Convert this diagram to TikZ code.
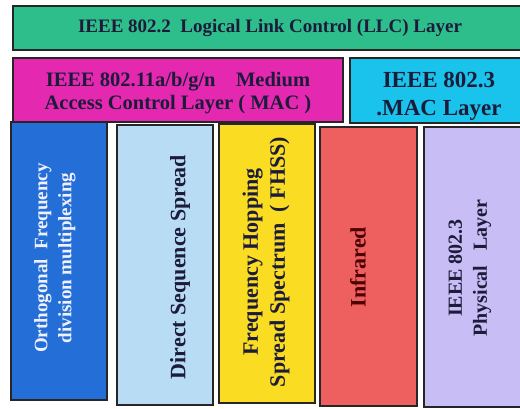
\documentclass[tikz,border=0pt]{standalone}
\usepackage{fontspec}
\setmainfont{Liberation Serif}
\definecolor{llcgreen}{RGB}{46,190,140}
\definecolor{macpink}{RGB}{228,40,175}
\definecolor{ethcyan}{RGB}{25,195,235}
\definecolor{ofdmblue}{RGB}{35,110,215}
\definecolor{dsssblue}{RGB}{185,220,245}
\definecolor{fhssyellow}{RGB}{250,220,35}
\definecolor{irred}{RGB}{238,95,95}
\definecolor{phylilac}{RGB}{200,190,245}
\definecolor{inkblue}{RGB}{28,28,58}
\tikzset{
  layerbox/.style={draw=black!85,line width=1.1pt},
  layertext/.style={text=inkblue,font=\bfseries,align=center,inner sep=0pt},
  sidetext/.style={layertext,rotate=90}
}
\begin{document}
\begin{tikzpicture}[x=1pt,y=-1pt]
\useasboundingbox (0,0) rectangle (520,408);
\clip (0,0) rectangle (520,408);

\filldraw[layerbox,fill=llcgreen]   (13,6)   rectangle (526,50);
\filldraw[layerbox,fill=macpink]    (13,58)  rectangle (343,122);
\filldraw[layerbox,fill=ethcyan]    (350,58) rectangle (526,123);

\filldraw[layerbox,fill=ofdmblue]   (11,122) rectangle (107,400);
\filldraw[layerbox,fill=dsssblue]   (117,125) rectangle (213,405);
\filldraw[layerbox,fill=fhssyellow] (219,124) rectangle (315,403);
\filldraw[layerbox,fill=irred]      (320,127) rectangle (417,406);
\filldraw[layerbox,fill=phylilac]   (424,127) rectangle (526,407);

\node[layertext,font=\bfseries\fontsize{19}{22}\selectfont] (llc) at (270,28)
  {IEEE 802.2\ \ Logical Link Control (LLC) Layer};
\node[layertext,font=\bfseries\fontsize{20.5}{23}\selectfont] (mac) at (178,93)
  {IEEE 802.11a/b/g/n\ \ \ \ Medium\\Access Control Layer ( MAC )};
\node[layertext,font=\bfseries\fontsize{23}{28}\selectfont] (ethmac) at (439,96)
  {IEEE 802.3\\.MAC Layer};

\node[sidetext,text=blue!6,font=\bfseries\fontsize{19}{24}\selectfont] (ofdm) at (55,258)
  {Orthogonal\ \ Frequency\\division multiplexing};
\node[sidetext,font=\bfseries\fontsize{22}{26}\selectfont] (dsss) at (180,267)
  {Direct Sequence Spread};
\node[sidetext,font=\bfseries\fontsize{22}{27}\selectfont] (fhss) at (266,262)
  {Frequency Hopping\\Spread Spectrum\ \ ( FHSS)};
\node[sidetext,text=red!30!black,font=\bfseries\fontsize{22}{26}\selectfont] (ir) at (358,267)
  {Infrared};
\node[sidetext,font=\bfseries\fontsize{20}{25}\selectfont] (phy) at (470,268)
  {IEEE 802.3\\Physical\ \ \ Layer};
\end{tikzpicture}
\end{document}
